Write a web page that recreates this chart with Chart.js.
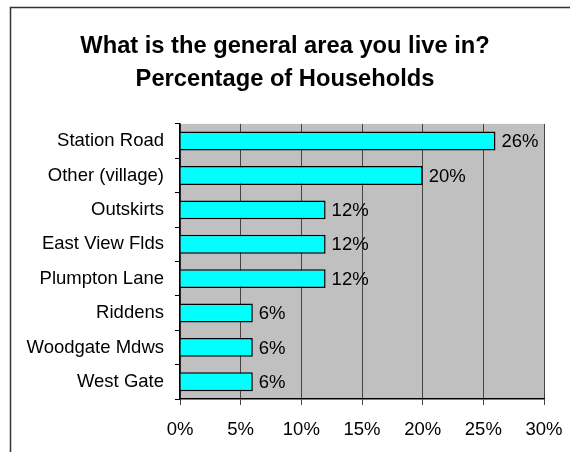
<!DOCTYPE html>
<html>
<head>
<meta charset="utf-8">
<script src="https://cdn.jsdelivr.net/npm/chart.js@4/dist/chart.umd.min.js"></script>
<style>
  body { margin: 0; background: #fff; }
  #wrap { width: 570px; height: 452px; }
</style>
</head>
<body>
<div id="wrap"><canvas id="chart" width="570" height="452"></canvas></div>
<script>
// chart data
const areas = ['Station Road', 'Other (village)', 'Outskirts', 'East View Flds', 'Plumpton Lane', 'Riddens', 'Woodgate Mdws', 'West Gate']
const households = [26, 20, 12, 12, 12, 6, 6, 6]
const titleLines = ['What is the general area you live in?', 'Percentage of Households']

const font = 'Liberation Sans, Arial, sans-serif'

//grey plot area and the frame around the chart
const backdrop = {
    id: 'backdrop',
    beforeDraw(chart) {
        let ctx = chart.ctx
        let a = chart.chartArea
        ctx.save()
        ctx.fillStyle = '#c0c0c0'
        ctx.fillRect(a.left, a.top, a.right - a.left, a.bottom - a.top)
        ctx.strokeStyle = '#333'
        ctx.lineWidth = 1.5
        ctx.beginPath()
        ctx.moveTo(570, 7.5)
        ctx.lineTo(10.5, 7.5)
        ctx.lineTo(10.5, 452)
        ctx.stroke()
        ctx.restore()
    }
}

//percent labels at the end of each bar
const barLabels = {
    id: 'barLabels',
    afterDatasetsDraw(chart) {
        let ctx = chart.ctx
        ctx.save()
        ctx.fillStyle = '#000'
        ctx.font = '18.5px ' + font
        ctx.textBaseline = 'middle'
        chart.getDatasetMeta(0).data.forEach((bar, i) => {
            ctx.fillText(households[i] + '%', bar.x + 6, bar.y + 1)
        })
        ctx.restore()
    }
}

new Chart(document.getElementById('chart'), {
    type: 'bar',
    data: {
        labels: areas,
        datasets: [{
            data: households,
            backgroundColor: '#00ffff',
            borderColor: '#000',
            borderWidth: 1.5,
            barPercentage: 0.55,
            categoryPercentage: 1
        }]
    },
    options: {
        indexAxis: 'y',
        responsive: false,
        animation: false,
        devicePixelRatio: 1,
        layout: { padding: { left: 26, right: 26, top: 0, bottom: 0 } },
        plugins: {
            legend: { display: false },
            tooltip: { enabled: false },
            title: {
                display: true,
                text: titleLines,
                color: '#000',
                font: { family: font, size: 23.7, weight: 'bold', lineHeight: 1.39 },
                padding: { top: 30, bottom: 28 }
            }
        },
        scales: {
            x: {
                min: 0,
                max: 30,
                ticks: {
                    stepSize: 5,
                    color: '#000',
                    padding: 14,
                    font: { family: font, size: 18.5 },
                    callback: (v) => v + '%'
                },
                grid: { color: '#444', lineWidth: 1, tickLength: 6, tickColor: '#444' },
                border: { color: '#000', width: 1.5 },
                afterFit: (scale) => {
                    scale.height = 53
                    scale.paddingLeft = 0
                    scale.paddingRight = 0
                }
            },
            y: {
                ticks: {
                    color: '#000',
                    padding: 11,
                    font: { family: font, size: 18.5 }
                },
                grid: { drawOnChartArea: false, tickLength: 5, tickColor: '#000', offset: true },
                border: { color: '#000', width: 1.5 },
                afterFit: (scale) => { scale.width = 154 }
            }
        }
    },
    plugins: [backdrop, barLabels]
})
</script>
</body>
</html>
